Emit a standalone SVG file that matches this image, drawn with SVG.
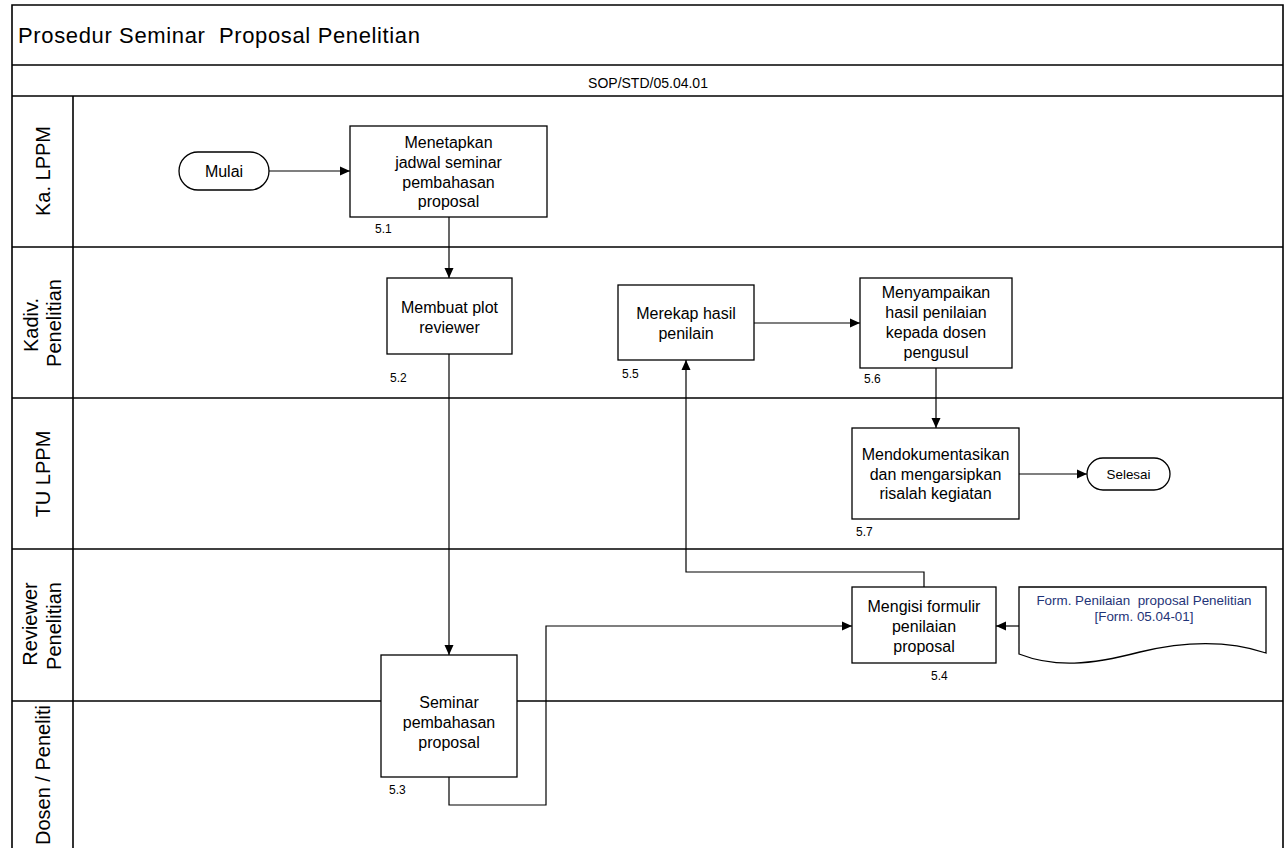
<svg xmlns="http://www.w3.org/2000/svg" width="1285" height="848" viewBox="0 0 1285 848">
<style>
  .frame { fill: none; stroke: #000; stroke-width: 1.6; }
  .box { fill: #fff; stroke: #000; stroke-width: 1.3; }
  .conn { fill: none; stroke: #000; stroke-width: 1.2; }
  text { font-family: "Liberation Sans", Arial, sans-serif; fill: #000; white-space: pre; }
  .t { font-size: 16px; text-anchor: middle; }
  .num { font-size: 12px; }
  .lane { font-size: 20px; text-anchor: middle; }
  .doc { font-size: 13.4px; text-anchor: middle; fill: #1f3478; }
</style>
<defs>
  <marker id="arr" viewBox="0 0 10 10" refX="10" refY="5" markerWidth="10" markerHeight="10" markerUnits="userSpaceOnUse" orient="auto">
    <path d="M0,0.5 L10,5 L0,9.5 Z" fill="#000"/>
  </marker>
</defs>
<rect width="1285" height="848" fill="#fff"/>

<g id="frame">
  <path class="frame" d="M12,849 V5 H1283 V849"/>
  <line class="frame" x1="12" y1="65" x2="1283" y2="65"/>
  <line class="frame" x1="12" y1="96" x2="1283" y2="96"/>
  <line class="frame" x1="73" y1="96" x2="73" y2="849"/>
  <line class="frame" x1="12" y1="247" x2="1283" y2="247"/>
  <line class="frame" x1="12" y1="398" x2="1283" y2="398"/>
  <line class="frame" x1="12" y1="549" x2="1283" y2="549"/>
  <line class="frame" x1="12" y1="701" x2="1283" y2="701"/>
  <text x="18" y="43" font-size="22" xml:space="preserve" textLength="402" lengthAdjust="spacing">Prosedur Seminar  Proposal Penelitian</text>
  <text x="648" y="88" font-size="14" text-anchor="middle">SOP/STD/05.04.01</text>
</g>

<g id="lanes">
  <text class="lane" transform="translate(50,171) rotate(-90)">Ka. LPPM</text>
  <text class="lane" transform="translate(38,325) rotate(-90)">Kadiv.</text>
  <text class="lane" transform="translate(61,323) rotate(-90)">Penelitian</text>
  <text class="lane" transform="translate(50,474) rotate(-90)">TU LPPM</text>
  <text class="lane" transform="translate(37,624) rotate(-90)">Reviewer</text>
  <text class="lane" transform="translate(61,626) rotate(-90)">Penelitian</text>
  <text class="lane" transform="translate(50,775) rotate(-90)">Dosen / Peneliti</text>
</g>

<g id="connectors">
  <line class="conn" x1="269" y1="171" x2="350" y2="171" marker-end="url(#arr)"/>
  <line class="conn" x1="449" y1="217" x2="449" y2="278" marker-end="url(#arr)"/>
  <line class="conn" x1="449" y1="354" x2="449" y2="655" marker-end="url(#arr)"/>
  <polyline class="conn" points="449,777 449,805 546,805 546,626 852,626" marker-end="url(#arr)"/>
  <line class="conn" x1="1019" y1="626" x2="996" y2="626" marker-end="url(#arr)"/>
  <polyline class="conn" points="924,587 924,572 686,572 686,360" marker-end="url(#arr)"/>
  <line class="conn" x1="754" y1="323" x2="860" y2="323" marker-end="url(#arr)"/>
  <line class="conn" x1="936" y1="368" x2="936" y2="428" marker-end="url(#arr)"/>
  <line class="conn" x1="1019" y1="474" x2="1087" y2="474" marker-end="url(#arr)"/>
</g>

<g id="mulai">
  <rect class="box" x="179" y="152" width="90" height="38" rx="19"/>
  <text class="t" x="224" y="177">Mulai</text>
</g>

<g id="n51">
  <rect class="box" x="350" y="126" width="197" height="91"/>
  <text class="t" x="448.5" y="148">Menetapkan</text>
  <text class="t" x="448.5" y="168">jadwal seminar</text>
  <text class="t" x="448.5" y="187.5">pembahasan</text>
  <text class="t" x="448.5" y="207">proposal</text>
  <text class="num" x="375" y="233">5.1</text>
</g>

<g id="n52">
  <rect class="box" x="387" y="278" width="125" height="76"/>
  <text class="t" x="449.5" y="313">Membuat plot</text>
  <text class="t" x="449.5" y="333">reviewer</text>
  <text class="num" x="390" y="382">5.2</text>
</g>

<g id="n55">
  <rect class="box" x="618" y="285" width="136" height="75"/>
  <text class="t" x="686" y="319">Merekap hasil</text>
  <text class="t" x="686" y="339">penilain</text>
  <text class="num" x="622" y="378">5.5</text>
</g>

<g id="n56">
  <rect class="box" x="860" y="278" width="152" height="90"/>
  <text class="t" x="936" y="298">Menyampaikan</text>
  <text class="t" x="936" y="318">hasil penilaian</text>
  <text class="t" x="936" y="338">kepada dosen</text>
  <text class="t" x="936" y="358">pengusul</text>
  <text class="num" x="864" y="383">5.6</text>
</g>

<g id="n57">
  <rect class="box" x="852" y="428" width="167" height="91"/>
  <text class="t" x="935.5" y="460">Mendokumentasikan</text>
  <text class="t" x="935.5" y="480">dan mengarsipkan</text>
  <text class="t" x="935.5" y="499">risalah kegiatan</text>
  <text class="num" x="856" y="536">5.7</text>
</g>

<g id="selesai">
  <rect class="box" x="1087" y="458" width="83" height="32" rx="16"/>
  <text x="1128.5" y="479" font-size="13.4" text-anchor="middle">Selesai</text>
</g>

<g id="n54">
  <rect class="box" x="852" y="587" width="144" height="76"/>
  <text class="t" x="924" y="612">Mengisi formulir</text>
  <text class="t" x="924" y="632">penilaian</text>
  <text class="t" x="924" y="652">proposal</text>
  <text class="num" x="931" y="680">5.4</text>
</g>

<g id="form">
  <path class="box" d="M1019,587 H1266 V653 C1230,641 1190,640 1140,652 C1090,665 1055,668 1019,654 Z"/>
  <text class="doc" x="1144" y="605" xml:space="preserve">Form. Penilaian  proposal Penelitian</text>
  <text class="doc" x="1144" y="621">[Form. 05.04-01]</text>
</g>

<g id="n53">
  <rect class="box" x="381" y="655" width="136" height="122"/>
  <text class="t" x="449" y="708">Seminar</text>
  <text class="t" x="449" y="728">pembahasan</text>
  <text class="t" x="449" y="748">proposal</text>
  <text class="num" x="389" y="794">5.3</text>
</g>
</svg>
